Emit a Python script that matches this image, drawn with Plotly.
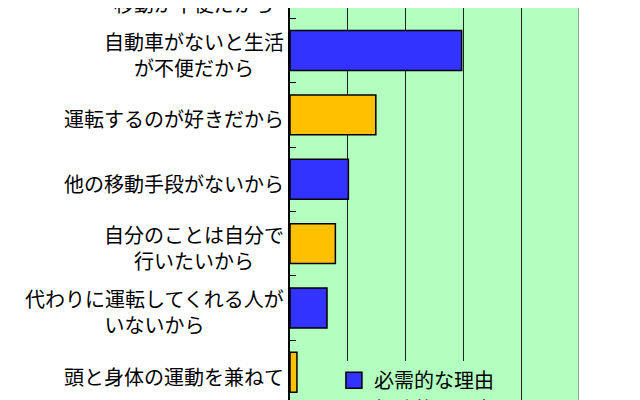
import plotly.graph_objects as go

# reasons for using a car (%), top to bottom
categories = [
    'バスや電車が少なく<br>移動が不便だから',
    '自動車がないと生活<br>が不便だから',
    '運転するのが好きだから',
    '他の移動手段がないから',
    '自分のことは自分で<br>行いたいから',
    '代わりに運転してくれる人が<br>いないから',
    '頭と身体の運動を兼ねて',
]
values = [64.0, 59.4, 29.7, 20.2, 15.7, 12.8, 2.4]
kinds = ['need', 'need', 'hobby', 'need', 'hobby', 'need', 'hobby']

series_names = {'need': '必需的な理由', 'hobby': '趣味的な理由'}
series_colors = {'need': '#3333FF', 'hobby': '#FFC000'}

FONT = 'Noto Sans CJK JP'
# chart is cropped: first bar runs off the top, axis and legend off the bottom
y_range = [6.43, 0.34]

fig = go.Figure()
for kind in ['need', 'hobby']:
    fig.add_trace(go.Bar(
        y=[c for c, k in zip(categories, kinds) if k == kind],
        x=[v for v, k in zip(values, kinds) if k == kind],
        orientation='h',
        name=series_names[kind],
        showlegend=False,
        marker=dict(color=series_colors[kind],
                    line=dict(color='black', width=1.5)),
    ))
    # legend entry with a bigger swatch than the default bar icon
    fig.add_trace(go.Scatter(
        x=[None], y=[None], mode='markers', name=series_names[kind],
        marker=dict(symbol='square', size=20, color=series_colors[kind],
                    line=dict(color='black', width=1.5)),
    ))

# category labels as annotations so multi-line text is centred
for i, cat in enumerate(categories):
    fig.add_annotation(
        text=cat, xref='paper', x=0, xanchor='right', xshift=-4,
        yref='paper', y=(y_range[0] - i) / (y_range[0] - y_range[1]),
        yanchor='middle', yshift=-4, align='center', showarrow=False,
        font=dict(family=FONT, size=20, color='black'))

fig.update_layout(
    width=640, height=400,
    margin=dict(l=282, r=69, t=0, b=8, autoexpand=False),
    paper_bgcolor='white',
    plot_bgcolor='#B3FFBF',
    barmode='overlay',
    bargap=0.38,
    font=dict(family=FONT, size=20, color='black'),
    legend=dict(x=0.152, y=0.1, xanchor='left', yanchor='top',
                bgcolor='#B3FFBF', font=dict(size=20),
                traceorder='normal', itemsizing='trace'),
)
fig.update_xaxes(range=[0, 100], dtick=20, showgrid=True,
                 gridcolor='#222222', gridwidth=1, showticklabels=False,
                 zeroline=False, showline=False)
fig.update_yaxes(categoryorder='array', categoryarray=categories,
                 range=y_range, showticklabels=False,
                 ticks='inside', tickson='boundaries', ticklen=6,
                 tickcolor='black', showline=True, linecolor='black',
                 linewidth=1.5, showgrid=False)
fig.add_vline(x=100, line=dict(color='#808080', width=1.5))

fig.write_html('out.html')
